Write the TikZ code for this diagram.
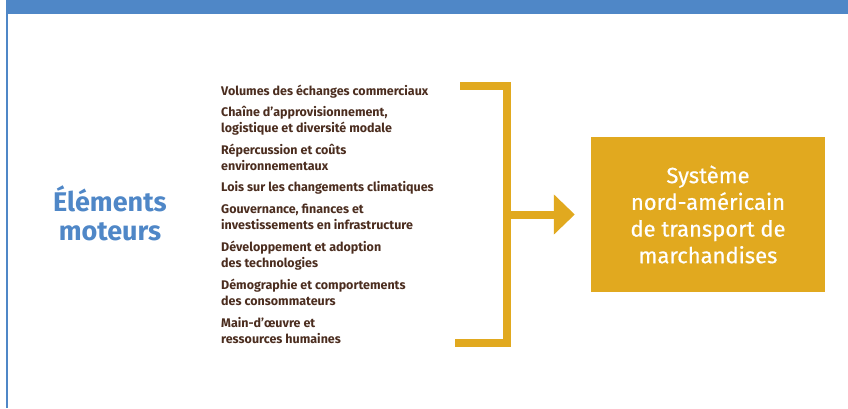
\documentclass[tikz,border=0pt]{standalone}
\usepackage{fontspec}
\setmainfont{Fira Sans}
\newfontfamily\boxfont[FakeBold=0.6]{Fira Sans}
\usetikzlibrary{arrows.meta}
\definecolor{barblue}{HTML}{4F87C7}
\definecolor{gold}{HTML}{E1A91F}
\definecolor{ink}{HTML}{4B2D1F}

\begin{document}
\begin{tikzpicture}[x=1pt, y=1pt,
  driver/.style={anchor=base west, inner sep=0pt, align=left, text=ink, font=\fontsize{12.5}{16}\selectfont\bfseries}]
  \useasboundingbox (0,0) rectangle (848,408);
  % frame: top band and left rule
  \fill[barblue] (6,394) rectangle (848,408);
  \fill[barblue] (6,0) rectangle (8,394);
  \node[text=barblue, inner sep=0pt, align=center, font=\fontsize{27}{29}\selectfont\bfseries] (title) at (110,195) {Éléments\\moteurs};
  % the eight drivers, placed by their last baseline
  \node[driver] (trade) at (221,313) {Volumes des échanges commerciaux};
  \node[driver] (supply) at (221,275.5) {Chaîne d’approvisionnement,\\logistique et diversité modale};
  \node[driver] (envir) at (221,238) {Répercussion et coûts\\environnementaux};
  \node[driver] (climate) at (221,216.5) {Lois sur les changements climatiques};
  \node[driver] (govern) at (221,179) {Gouvernance, finances et\\investissements en infrastructure};
  \node[driver] (tech) at (221,141) {Développement et adoption\\des technologies};
  \node[driver] (demog) at (221,103) {Démographie et comportements\\des consommateurs};
  \node[driver] (labour) at (221,65) {Main-d’œuvre et\\ressources humaines};
  \node[fill=gold, text=white, minimum width=234, minimum height=155, align=center, font=\boxfont\fontsize{22}{26.7}\selectfont] (sys) at (708,193.5) {Système\\nord-américain\\de transport de\\marchandises};
  % bracket gathering the drivers
  \coordinate (btop) at (460,322);
  \coordinate (bbot) at (455,65.5);
  \coordinate (bmid) at (507,193.5);
  \draw[gold, line width=8] (btop) -- (bmid |- btop) -- (bmid |- bbot) -- (bbot);
  \draw[gold, line width=8, shorten >=16pt, -{Triangle[width=39pt,length=21pt]}] (bmid) -- (sys.west);
\end{tikzpicture}
\end{document}
